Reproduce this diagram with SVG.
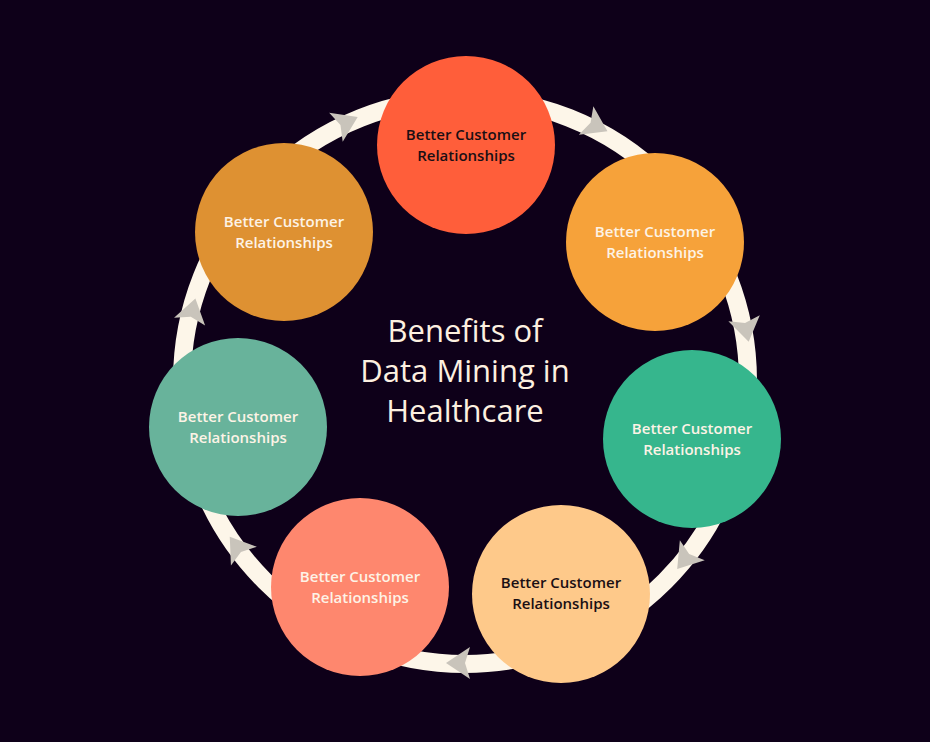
<svg xmlns="http://www.w3.org/2000/svg" width="930" height="742" viewBox="0 0 930 742">
<defs>
<style>
.n{font-family:"Open Sans","Noto Sans",sans-serif;font-size:15px;font-weight:600;text-anchor:middle}
.w{fill:#fdf3e6}.d{fill:#1a0f14}
.t{font-family:"Open Sans","Noto Sans",sans-serif;font-size:31px;font-weight:500;fill:#fdf0e0;text-anchor:middle}
.ah{fill:#c9c4bb}
</style>
<path id="ar" d="M14,0 L-10,-16 L-5,0 L-10,16 Z"/>
</defs>
<rect width="930" height="742" fill="#0e0019"/>
<g id="connectors">
<circle cx="465" cy="381" r="283" fill="none" stroke="#fdf6e9" stroke-width="18"/>
<use href="#ar" class="ah" transform="translate(345,123) rotate(-25)"/>
<use href="#ar" class="ah" transform="translate(595,125) rotate(27)"/>
<use href="#ar" class="ah" transform="translate(746,328) rotate(79)"/>
<use href="#ar" class="ah" transform="translate(686,558) rotate(129)"/>
<use href="#ar" class="ah" transform="translate(460,663) rotate(180)"/>
<use href="#ar" class="ah" transform="translate(238,548) rotate(-126)"/>
<use href="#ar" class="ah" transform="translate(192,312) rotate(-76)"/>
</g>
<g id="n1"><circle cx="466" cy="145" r="89" fill="#ff5e3a"/><text class="n d" x="466" y="140">Better Customer</text><text class="n d" x="466" y="161">Relationships</text></g>
<g id="n2"><circle cx="655" cy="242" r="89" fill="#f6a23a"/><text class="n w" x="655" y="237">Better Customer</text><text class="n w" x="655" y="258">Relationships</text></g>
<g id="n3"><circle cx="692" cy="439" r="89" fill="#36b68d"/><text class="n w" x="692" y="434">Better Customer</text><text class="n w" x="692" y="455">Relationships</text></g>
<g id="n4"><circle cx="561" cy="594" r="89" fill="#fec98a"/><text class="n d" x="561" y="588">Better Customer</text><text class="n d" x="561" y="609">Relationships</text></g>
<g id="n5"><circle cx="360" cy="587" r="89" fill="#fe876e"/><text class="n w" x="360" y="582">Better Customer</text><text class="n w" x="360" y="603">Relationships</text></g>
<g id="n6"><circle cx="238" cy="427" r="89" fill="#68b39b"/><text class="n w" x="238" y="422">Better Customer</text><text class="n w" x="238" y="443">Relationships</text></g>
<g id="n7"><circle cx="284" cy="232" r="89" fill="#de9132"/><text class="n w" x="284" y="227">Better Customer</text><text class="n w" x="284" y="248">Relationships</text></g>
<g id="title"><text class="t" x="465" y="342">Benefits of</text><text class="t" x="465" y="382">Data Mining in</text><text class="t" x="465" y="422">Healthcare</text></g>
</svg>
